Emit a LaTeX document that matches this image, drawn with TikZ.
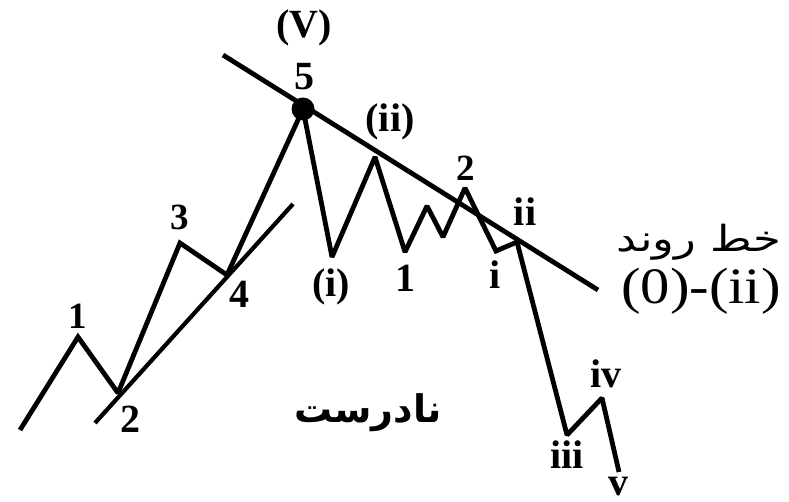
\documentclass[tikz,border=0pt]{standalone}
\usepackage{fontspec}
\setmainfont{Liberation Serif}
\newfontfamily\arabicfont[Script=Arabic]{DejaVu Sans}
\TeXXeTstate=1
\usetikzlibrary{positioning}

\begin{document}
\begin{tikzpicture}[x=1pt, y=-1pt, wave/.style={line width=4.8pt, line join=miter, miter limit=2}, lbl/.style={font=\bfseries\fontsize{40}{40}\selectfont, inner sep=0pt}, lblsm/.style={font=\bfseries\fontsize{37}{37}\selectfont, inner sep=0pt}]
\useasboundingbox (0,0) rectangle (789,502);
% wave points
\coordinate (start) at (20,430);
\coordinate (w1) at (78,337);
\coordinate (w2) at (118,393);
\coordinate (w3) at (180,243);
\coordinate (w4) at (227,275);
\coordinate (w5) at (303,109);
\coordinate (wi) at (332,257);
\coordinate (wii) at (375,157);
\coordinate (s1) at (405,252);
\coordinate (s1a) at (427,206);
\coordinate (s1b) at (443,237);
\coordinate (s2) at (465,188);
\coordinate (ssi) at (496,251);
\coordinate (ssii) at (517,242);
\coordinate (ssiii) at (567,435);
\coordinate (ssiv) at (602,398);
\coordinate (ssv) at (619,472);
% trend lines
\coordinate (top1) at (223,55);
\coordinate (top2) at (598,290);
\coordinate (low1) at (95,423);
\coordinate (low2) at (293,204);
\draw[wave] (start) -- (w1) -- (w2) -- (w3) -- (w4) -- (w5) -- (wi) -- (wii) -- (s1) -- (s1a) -- (s1b) -- (s2) -- (ssi) -- (ssii) -- (ssiii) -- (ssiv) -- (ssv);
\draw[wave] (top1) -- (top2);
\draw[line width=4.2pt] (low1) -- (low2);
\fill (w5) circle (11.5);
% labels
\node[lbl] (lV) at (304,28) {(V)};
\node[lbl] (l5) at (304,77) {5};
\node[lbl] (lii) at (390,122) {(ii)};
\node[lbl] (li) at (331,287) {(i)};
\node[lbl] (ls1) at (405,278) {1};
\node[lblsm] (ls2) at (466,168) {2};
\node[lbl] (lsi) at (495,275) {i};
\node[lbl] (lsii) at (525,212) {ii};
\node[lblsm] (l1) at (78,316) {1};
\node[lbl] (l2) at (130,419) {2};
\node[lblsm] (l3) at (180,217) {3};
\node[lbl] (l4) at (239,294) {4};
\node[lbl] (lsiii) at (567,455) {iii};
\node[lbl] (lsiv) at (606,374) {iv};
\node[lbl] (lsv) at (618,487) {v};
\node[inner sep=0pt, anchor=base, font=\arabicfont\fontsize{36}{36}\selectfont] (trend) at (699,252) {\scalebox{1.25}[1]{\beginR خط روند\endR}};
\node[inner sep=0pt, font=\fontsize{51}{51}\selectfont] (pair) at (701,291) {\scalebox{1.15}[1]{(0)-(ii)}};
\node[inner sep=0pt, font=\arabicfont\bfseries\fontsize{38}{38}\selectfont] (wrong) at (368,413) {\beginR نادرست\endR};
\end{tikzpicture}
\end{document}
